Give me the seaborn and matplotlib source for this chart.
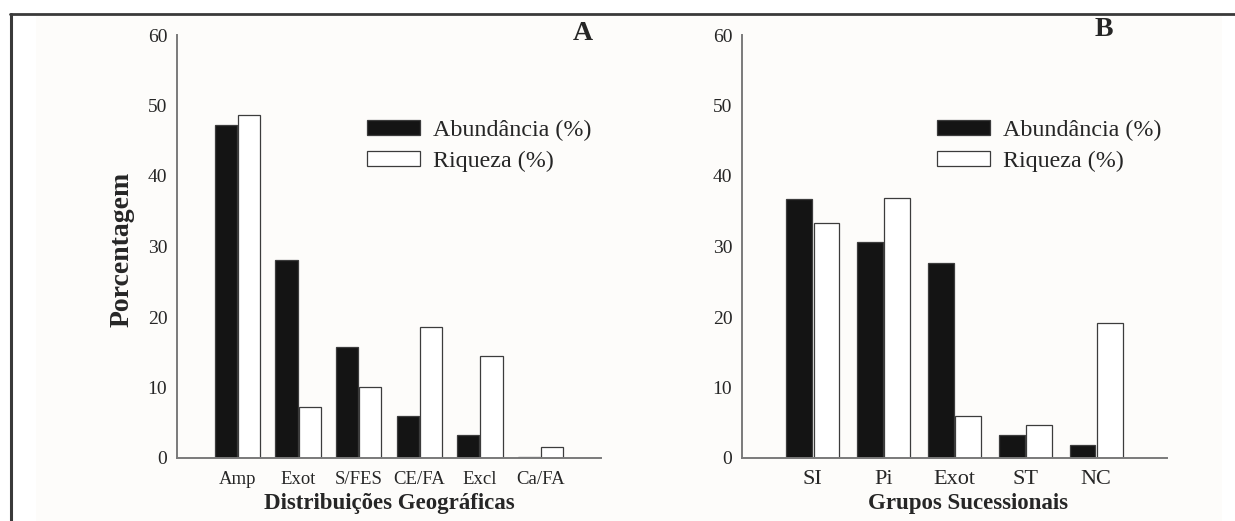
import matplotlib
matplotlib.use("Agg")
import matplotlib.pyplot as plt
from matplotlib.patches import Patch, Rectangle
from matplotlib.lines import Line2D
import seaborn as sns
import pandas as pd

# ---------------- data ----------------
series_names = ["Abundância (%)", "Riqueza (%)"]

geo_categories = ["Amp", "Exot", "S/FES", "CE/FA", "Excl", "Ca/FA"]
geo_abundancia = [47.2, 28.1, 15.7, 5.9, 3.3, 0.1]
geo_riqueza = [48.6, 7.2, 10.1, 18.6, 14.4, 1.5]

suc_categories = ["SI", "Pi", "Exot", "ST", "NC"]
suc_abundancia = [36.7, 30.7, 27.6, 3.2, 1.9]
suc_riqueza = [33.4, 36.9, 6.0, 4.7, 19.1]

y_ticks = [0, 10, 20, 30, 40, 50, 60]

# ---------------- style ----------------
sns.set_style("white")
plt.rcParams["font.family"] = ["Liberation Serif", "DejaVu Serif"]

W, H = 1235, 521
fig = plt.figure(figsize=(W / 100, H / 100), dpi=100)

def fx(px):
    return px / W

def fy(py):
    return 1 - py / H

# subtle off-white page and frame lines
fig.patches.append(Rectangle((fx(36), 0), fx(1222) - fx(36), fy(16), transform=fig.transFigure,
                             facecolor="#fdfcfa", edgecolor="none", zorder=-10))
fig.lines.append(Line2D([fx(10), 1.0], [fy(14), fy(14)], transform=fig.transFigure,
                        color="#3a3a3a", lw=2.0))
fig.lines.append(Line2D([fx(11), fx(11)], [fy(14), 0], transform=fig.transFigure,
                        color="#3a3a3a", lw=2.2))

palette = {series_names[0]: "#141414", series_names[1]: "#ffffff"}

def make_df(cats, a, r):
    return pd.DataFrame({
        "cat": cats * 2,
        "val": list(a) + list(r),
        "serie": [series_names[0]] * len(cats) + [series_names[1]] * len(cats),
    })

def draw_panel(ax, cats, a, r, xtick_fs, xlabel, ylabel, letter, letter_xy, leg_xy, xlabel_xy):
    df = make_df(cats, a, r)
    sns.barplot(data=df, x="cat", y="val", hue="serie", palette=palette, order=cats,
                hue_order=series_names, width=0.77, gap=0.05, edgecolor="#3c3c3c",
                linewidth=0.9, legend=False, ax=ax, errorbar=None)
    ax.set_facecolor("none")
    ax.set_xlim(-1, len(cats))
    ax.set_ylim(0, 60)
    ax.set_yticks(y_ticks)
    ax.set_yticklabels([str(t) for t in y_ticks], fontsize=14)
    ax.tick_params(axis="y", direction="in", length=2, width=0.8, color="#777777", pad=7)
    ax.tick_params(axis="x", length=0, pad=9, labelsize=xtick_fs)
    for s in ["top", "right"]:
        ax.spines[s].set_visible(False)
    for s in ["left", "bottom"]:
        ax.spines[s].set_color("#7a7a7a")
        ax.spines[s].set_linewidth(1.4)
    ax.set_xlabel(xlabel, fontsize=16.5, fontweight="bold", va="center")
    pos = ax.get_position()
    ax.xaxis.set_label_coords((xlabel_xy[0] / W - pos.x0) / pos.width,
                              (fy(xlabel_xy[1]) - pos.y0) / pos.height)
    if ylabel:
        ax.set_ylabel(ylabel, fontsize=20, fontweight="bold", va="center")
        ax.yaxis.set_label_coords((fx(122.5) - pos.x0) / pos.width,
                                  (fy(249.5) - pos.y0) / pos.height)
    else:
        ax.set_ylabel("")
    fig.text(fx(letter_xy[0]), fy(letter_xy[1]), letter, fontsize=20, fontweight="bold",
             ha="center", va="center")
    handles = [Patch(facecolor=palette[n], edgecolor="#3c3c3c", linewidth=0.9) for n in series_names]
    ax.legend(handles, series_names, loc="upper left", bbox_to_anchor=(fx(leg_xy[0]), fy(leg_xy[1])),
              bbox_transform=fig.transFigure, frameon=False, fontsize=17.3, borderpad=0,
              borderaxespad=0, handlelength=2.2, handleheight=0.58, handletextpad=0.55,
              labelspacing=0.42)

ax1 = fig.add_axes([fx(177), fy(458), fx(601) - fx(177), fy(35) - fy(458)])
ax2 = fig.add_axes([fx(742), fy(458), fx(1167) - fx(742), fy(35) - fy(458)])

draw_panel(ax1, geo_categories, geo_abundancia, geo_riqueza, 13.5,
           "Distribuições Geográficas", "Porcentagem", "A", (583, 33), (367, 120), (389, 504))
draw_panel(ax2, suc_categories, suc_abundancia, suc_riqueza, 16,
           "Grupos Sucessionais", None, "B", (1104, 30), (937, 120), (968, 504))

fig.savefig("out.png", dpi=100)
